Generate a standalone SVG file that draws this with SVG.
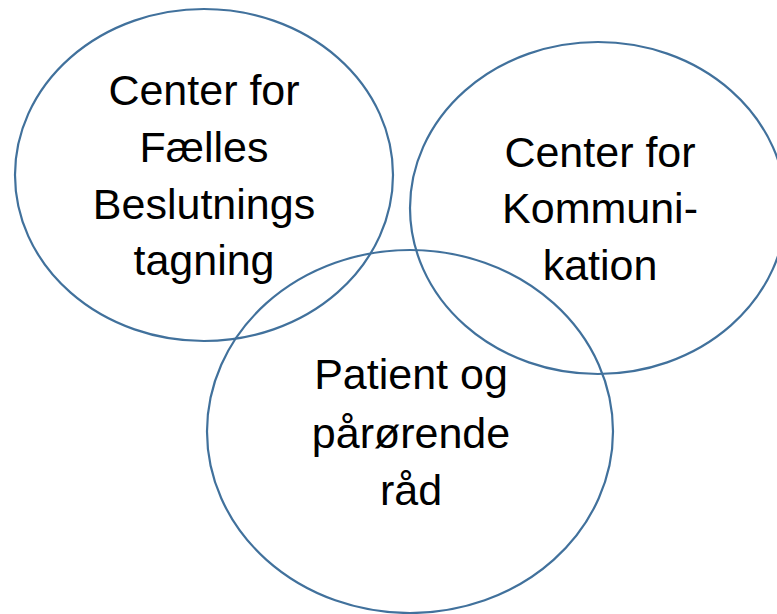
<svg xmlns="http://www.w3.org/2000/svg" width="777" height="614" viewBox="0 0 777 614">
<style>
.c{fill:none;stroke:#41719C;stroke-width:2.2}
.t{font-family:"Liberation Sans",Arial,sans-serif;font-size:43px;fill:#000;text-anchor:middle}
</style>
<rect width="777" height="614" fill="#fff"/>
<g id="node-fbt">
<ellipse class="c" cx="204" cy="175" rx="189" ry="166"/>
<text class="t"><tspan x="204" y="105">Center for</tspan><tspan x="204" y="162">Fælles</tspan><tspan x="204" y="219">Beslutnings</tspan><tspan x="204" y="275">tagning</tspan></text>
</g>
<g id="node-kom">
<ellipse class="c" cx="598" cy="208" rx="188" ry="166"/>
<text class="t"><tspan x="600" y="167">Center for</tspan><tspan x="600" y="223">Kommuni-</tspan><tspan x="600" y="280">kation</tspan></text>
</g>
<g id="node-pat">
<ellipse class="c" cx="410" cy="431.5" rx="203" ry="181.5"/>
<text class="t"><tspan x="411" y="389">Patient og</tspan><tspan x="411" y="448">pårørende</tspan><tspan x="411" y="505">råd</tspan></text>
</g>
<g id="connectors"/>
</svg>
